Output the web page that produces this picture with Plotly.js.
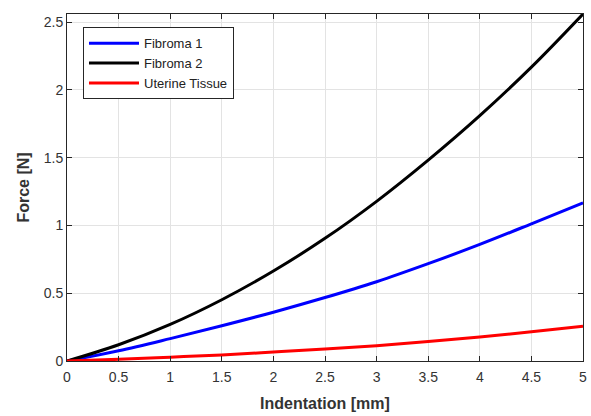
<!DOCTYPE html>
<html>
<head>
<meta charset="utf-8">
<script src="https://cdn.plot.ly/plotly-3.0.1.min.js"></script>
<style>html,body{margin:0;padding:0;background:#fff;}#chart{width:591px;height:416px;}</style>
</head>
<body>
<div id="chart"></div>
<script>
const indentation = [0, 0.5, 1, 1.5, 2, 2.5, 3, 3.5, 4, 4.5, 5];
const fibroma1 = [0, 0.075, 0.165, 0.26, 0.36, 0.468, 0.585, 0.718, 0.86, 1.012, 1.167];
const fibroma2 = [0, 0.12, 0.27, 0.452, 0.664, 0.905, 1.178, 1.482, 1.81, 2.168, 2.56];
const uterine = [0, 0.012, 0.028, 0.045, 0.066, 0.088, 0.113, 0.143, 0.177, 0.215, 0.256];
const seriesNames = ["Fibroma 1", "Fibroma 2", "Uterine Tissue"];
const xTitle = "Indentation [mm]";
const yTitle = "Force [N]";

const colors = ["#0000ff", "#000000", "#ff0000"];
const values = [fibroma1, fibroma2, uterine];
const traces = values.map((v, i) => ({
  x: indentation, y: v, name: seriesNames[i], type: "scatter", mode: "lines",
  line: {color: colors[i], width: 3, shape: "spline", smoothing: 1}
}));

const axisCommon = {
  showline: true, linecolor: "#262626", linewidth: 1, mirror: "ticks",
  ticks: "inside", ticklen: 5, tickcolor: "#262626", tickwidth: 1,
  showgrid: true, gridcolor: "#e3e3e3", gridwidth: 1, zeroline: false,
  dtick: 0.5, tick0: 0,
  tickfont: {family: "Liberation Sans, Arial, sans-serif", size: 14, color: "#333333"}
};

const layout = {
  width: 591, height: 416,
  margin: {l: 67, r: 8, t: 14, b: 55},
  paper_bgcolor: "#ffffff", plot_bgcolor: "#ffffff",
  showlegend: true,
  legend: {
    x: 0.031, y: 0.962, xanchor: "left", yanchor: "top",
    bgcolor: "#ffffff", bordercolor: "#262626", borderwidth: 1,
    font: {family: "Liberation Sans, Arial, sans-serif", size: 13, color: "#222222"},
    itemwidth: 50, tracegroupgap: 0
  },
  xaxis: Object.assign({}, axisCommon, {
    range: [0, 5], ticklabelstandoff: 3,
    title: {text: xTitle, standoff: 14, font: {family: "Liberation Sans, Arial, sans-serif", size: 16, color: "#333333", weight: "bold"}}
  }),
  yaxis: Object.assign({}, axisCommon, {
    range: [0, 2.56],
    title: {text: yTitle, standoff: 10, font: {family: "Liberation Sans, Arial, sans-serif", size: 16, color: "#333333", weight: "bold"}}
  })
};

Plotly.newPlot("chart", traces, layout, {displayModeBar: false, staticPlot: true});
</script>
</body>
</html>
